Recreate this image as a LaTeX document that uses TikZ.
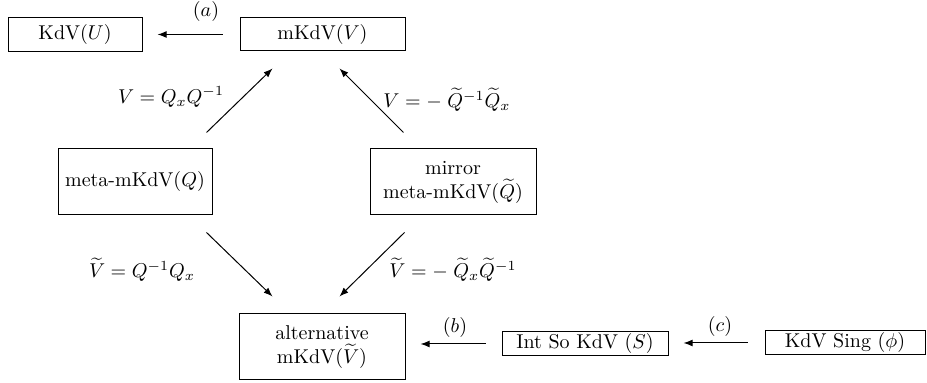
\documentclass[tikz,border=0pt]{standalone}
\usepackage{amsmath}
\usetikzlibrary{arrows.meta,calc}
\begin{document}
\begin{tikzpicture}[x=0.5pt,y=-0.5pt,
  box/.style={draw, line width=0.5pt, inner sep=1pt, align=center},
  arr/.style={-{Latex[length=4.5pt,width=3.4pt]}, line width=0.5pt},
  lbl/.style={inner sep=0pt}]
\useasboundingbox (0,0) rectangle (927,383);
% boxes
\node[box, minimum width=67pt, minimum height=17pt] (kdvU) at (75,34.5) {KdV$(U)$};
\node[box, minimum width=82.5pt, minimum height=16.5pt] (mkdvV) at (322.5,34.5) {mKdV$(V)$};
\node[box, minimum width=77pt, minimum height=33pt] (meta) at (135,182) {meta-mKdV$(Q)$};
\node[box, minimum width=83pt, minimum height=33pt] (mirror) at (453,182) {mirror\\meta-mKdV$(\widetilde{Q})$};
\node[box, minimum width=83pt, minimum height=33pt] (alt) at (322,347) {alternative\\mKdV$(\widetilde{V})$};
\node[box, minimum width=83pt, minimum height=12pt] (intso) at (585,344) {Int So KdV $(S)$};
\node[box, minimum width=80pt, minimum height=12pt] (sing) at (845,343) {KdV Sing $(\phi)$};
% anchor points of diagonal arrows
\coordinate (ul1) at ($(meta.north east)+(-6,-16)$);
\coordinate (ul2) at ($(mkdvV.south west)+(33,17)$);
\coordinate (ur1) at ($(mirror.north west)+(34,-16)$);
\coordinate (ur2) at ($(mkdvV.south east)+(-66,17)$);
\coordinate (dl1) at ($(meta.south east)+(-6,17)$);
\coordinate (dl2) at ($(alt.north west)+(34,-17)$);
\coordinate (dr1) at ($(mirror.south west)+(35,17)$);
\coordinate (dr2) at ($(alt.north east)+(-66,-17)$);
% connectors
\draw[arr, shorten <=8.5pt, shorten >=7.5pt] (mkdvV.west) -- (mkdvV.west -| kdvU.east);
\draw[arr] (ul1) -- (ul2);
\draw[arr] (ur1) -- (ur2);
\draw[arr] (dl1) -- (dl2);
\draw[arr] (dr1) -- (dr2);
\draw[arr, shorten <=8pt, shorten >=7.5pt] (intso.west) -- (intso.west -| alt.east);
\draw[arr, shorten <=8.5pt, shorten >=7.5pt] (sing.west) -- (sing.west -| intso.east);
% labels
\node[lbl] (la) at (206,12) {$(a)$};
\node[lbl] (lb) at (455,328) {$(b)$};
\node[lbl] (lc) at (720,327) {$(c)$};
\node[lbl] (l1) at (171,97) {$V=Q_xQ^{-1}$};
\node[lbl] (l2) at (447,100) {$V=-\;\widetilde{Q}^{-1}\widetilde{Q}_x$};
\node[lbl] (l3) at (142,270) {$\widetilde{V}=Q^{-1}Q_x$};
\node[lbl] (l4) at (453,270) {$\widetilde{V}=-\;\widetilde{Q}_x\widetilde{Q}^{-1}$};
\end{tikzpicture}
\end{document}
